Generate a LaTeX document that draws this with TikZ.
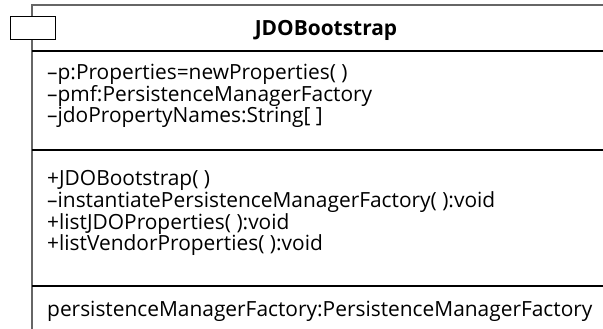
\documentclass[tikz,border=0pt]{standalone}
\usepackage{fontspec}
\setmainfont{Open Sans}
\begin{document}
\begin{tikzpicture}[x=1pt,y=-1pt,
  txt/.style={anchor=base west,inner sep=0pt,font=\fontsize{20.9}{22}\selectfont},
  ttl/.style={anchor=base,inner sep=0pt,font=\fontsize{20.9}{22}\selectfont\bfseries},
  sep/.style={line width=1.4pt},
  edge/.style={draw=black!60,line width=1.2pt}]
\useasboundingbox (0,0) rectangle (603,329);
\clip (0,0) rectangle (603,329);
\coordinate (tl) at (32,5);
\coordinate (tr) at (620,5);
\coordinate (bl) at (32,330);
\draw[edge] (tr) -- (tl) -- (bl);
\draw[sep] (32,51) -- (620,51);
\draw[sep] (32,150) -- (620,150);
\draw[sep] (32,286) -- (620,286);
\node[draw=black,fill=white,line width=1pt,minimum width=45pt,minimum height=23pt,inner sep=0pt] (tab) at (32.5,28.5) {};
\node[ttl] (title) at (326,36) {JDOBootstrap};
\node[txt] (a1) at (47,80) {–p:Properties=newProperties( )};
\node[txt] (a2) at (47,101.5) {–pmf:PersistenceManagerFactory};
\node[txt] (a3) at (47,123) {–jdoPropertyNames:String[ ]};
\node[txt] (m1) at (47,185) {+JDOBootstrap( )};
\node[txt] (m2) at (47,207) {–instantiatePersistenceManagerFactory( ):void};
\node[txt] (m3) at (47,229) {+listJDOProperties( ):void};
\node[txt] (m4) at (47,250) {+listVendorProperties( ):void};
\node[txt] (p1) at (47,316) {persistenceManagerFactory:PersistenceManagerFactory};
\end{tikzpicture}
\end{document}
